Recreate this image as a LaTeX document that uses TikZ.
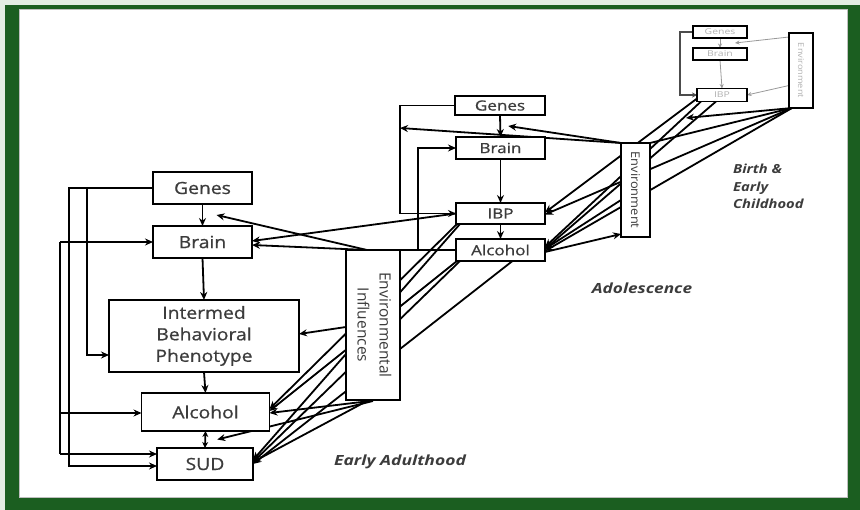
\documentclass[tikz,border=0pt]{standalone}
\usepackage{fontspec}
\usepackage{graphicx}
\setmainfont{Open Sans}
\newfontfamily\bxf{Open Sans}[FakeBold=0.7]
\usetikzlibrary{arrows.meta,calc}
\pgfdeclarelayer{back}
\pgfdeclarelayer{lines}
\pgfsetlayers{back,lines,main}
\definecolor{framegreen}{HTML}{1B5E20}
\definecolor{txt}{HTML}{3C3C3C}
\definecolor{pale}{HTML}{E3EDE3}
\newcommand{\hsc}[2]{\scalebox{#1}[1]{#2}}
\begin{document}
\begin{tikzpicture}[x=1pt,y=-1pt,
  box/.style={draw=black,line width=1.9pt,fill=white,inner sep=0pt,outer sep=0pt,text=txt},
  ebox/.style={box,font=\bxf\fontsize{16.8}{21.5}\selectfont},
  abox/.style={box,font=\bxf\fontsize{14}{16}\selectfont},
  bbox/.style={box,line width=1.6pt,text=gray!60,font=\fontsize{8}{9}\selectfont},
  ln/.style={line width=1.8pt,black},
  arr/.style={ln,-{Stealth[length=8pt,width=7pt]}},
  tarr/.style={line width=0.8pt,gray!80,-{Stealth[length=4.5pt,width=4pt]}},
  lbl/.style={font=\fontsize{14}{17.5}\selectfont\bfseries\itshape,text=txt,inner sep=0pt}
]
\begin{pgfonlayer}{back}
  \fill[pale] (0,0) rectangle (860,510);
  \fill[framegreen] (5,5) rectangle (860,510);
  \fill[white] (19,9.5) rectangle (847,497);
  \draw[gray!50,line width=0.6pt] (19,9.5) rectangle (847,497);
\end{pgfonlayer}
\useasboundingbox (0,0) rectangle (860,510);

% ---------- Early adulthood ----------
\node[ebox,minimum width=99pt,minimum height=32pt] (ge) at (202.5,188) {\hsc{1.15}{Genes}};
\node[ebox,minimum width=99pt,minimum height=32pt] (br) at (202.5,242) {\hsc{1.15}{Brain}};
\node[ebox,minimum width=190pt,minimum height=72pt] (ibp) at (204,336)
  {\hsc{1.15}{\begin{tabular}{@{}c@{}}Intermed\\Behavioral\\Phenotype\end{tabular}}};
\node[ebox,minimum width=128pt,minimum height=38pt] (al) at (205.5,412) {\hsc{1.15}{Alcohol}};
\node[ebox,minimum width=96pt,minimum height=32pt] (sud) at (205,464) {\hsc{1.15}{SUD}};
\node[box,font=\fontsize{15.5}{22}\selectfont,minimum width=54pt,minimum height=150pt] (envI) at (373,325)
  {\rotatebox{-90}{\begin{tabular}{@{}c@{}}Environmental\\Influences\end{tabular}}};

% ---------- Adolescence ----------
\node[abox,minimum width=90pt,minimum height=19pt] (ga) at (500,105.5) {\hsc{1.22}{Genes}};
\node[abox,minimum width=89pt,minimum height=22pt] (ba) at (500.5,148) {\hsc{1.22}{Brain}};
\node[abox,minimum width=89pt,minimum height=21pt] (ia) at (500.5,213.5) {\hsc{1.22}{IBP}};
\node[abox,minimum width=89pt,minimum height=22pt] (aa) at (500.5,250) {\hsc{1.22}{Alcohol}};
\node[box,font=\fontsize{12}{14}\selectfont,minimum width=29pt,minimum height=94pt] (ea) at (635.5,190)
  {\rotatebox{-90}{\hsc{1.07}{Environment}}};

% ---------- Birth ----------
\node[bbox,minimum width=54pt,minimum height=12pt] (gb) at (720,32) {\hsc{1.3}{Genes}};
\node[bbox,minimum width=54pt,minimum height=12pt] (bb) at (720,54) {\hsc{1.3}{Brain}};
\node[bbox,minimum width=50pt,minimum height=13pt] (ib) at (722,95) {\hsc{1.3}{IBP}};
\node[bbox,minimum width=24pt,minimum height=75pt] (eb) at (801,70.5) {\rotatebox{-90}{\hsc{1.15}{Environment}}};

% ---------- Labels ----------
\node[lbl] (lea) at (400,462) {\hsc{1.25}{Early Adulthood}};
\node[lbl] (lad) at (642,288) {\hsc{1.23}{Adolescence}};
\node[lbl,font=\fontsize{12.5}{17.5}\selectfont\bfseries\itshape,anchor=west] (lbi) at (733,188)
  {\hsc{1.18}{\begin{tabular}{@{}l@{}}Birth \&\\Early\\Childhood\end{tabular}}};

% ---------- helper coordinates ----------
\coordinate (gbm) at ($(ge.south)!.5!(br.north)+(14,0)$);
\coordinate (asm) at ($(al.south)!.5!(sud.north)+(12,0)$);
\coordinate (e1) at (87,355);
\coordinate (e2) at (69,466);
\coordinate (busT) at (60,242);
\coordinate (busM) at (60,413);
\coordinate (busB) at (60,454);
\coordinate (aw1) at (418,250);
\coordinate (aw2) at (367,250);
\coordinate (gam) at ($(ga.south)!.5!(ba.north)+(8,0)$);
\coordinate (vl) at (400,128);
\coordinate (vlb) at (400,213.5);
\coordinate (gbmb) at ($(gb.south)!.5!(bb.north)+(15,0)$);
\coordinate (blp) at (680,95);
\coordinate (bp) at (686,118);
\coordinate (ebs) at ($(eb.south west)+(3,0)$);

\begin{pgfonlayer}{lines}
  % early internal
  \draw[arr] (ge.south) -- (br.north);
  \draw[arr] (br.south) -- (ibp.north);
  \draw[arr] (ibp.south) -- (al.north);
  \draw[ln,{Stealth[length=6pt,width=6pt]}-{Stealth[length=6pt,width=6pt]}] (al.south) -- (sud.north);
  \draw[arr] (ge.west) -| (e1) -- (ibp.west |- e1);
  \draw[arr] (ge.west) -| (e2) -- (sud.west |- e2);
  \draw[ln] (busT) -- (busB);
  \draw[arr] (busT) -- (br.west);
  \draw[arr] (busM) -- (al.west |- busM);
  \draw[arr] (busB) -- (sud.west |- busB);
  % environmental influences
  \draw[arr] ($(envI.west)+(0,2)$) -- ($(ibp.east)+(0,-2)$);
  \draw[arr] ($(envI.south)+(-3,1)$) -- ($(al.east)+(0,1)$);
  \draw[arr] ($(envI.south)+(-6,1)$) -- ($(sud.east)+(0,-2)$);
  \draw[arr] ($(envI.south)+(0,1)$) -- (asm);
  % adolescence -> early adulthood
  \draw[arr] (ia.west) -- ($(br.east)+(0,-1)$);
  \draw[ln] (aa.west) -- (aw2);
  \draw[arr] (aw1) |- (ba.west);
  \draw[arr] (aw2) -- ($(br.east)+(0,3)$);
  \draw[arr] (aw2) -- (gbm);
  \draw[arr] ($(ia.south west)+(1,0)$) -- ($(al.east)+(0,-3)$);
  \draw[arr] ($(ia.south west)+(4,0)$) -- ($(sud.east)+(0,-4)$);
  \draw[arr] ($(aa.south west)+(1,0)$) -- ($(al.east)+(0,-1)$);
  \draw[arr] ($(aa.south west)+(4,0)$) -- ($(sud.east)+(0,-2)$);
  \draw[arr] ($(aa.south)+(12,0)$) -- (sud.east);
  % adolescence internal
  \draw[arr] (ga.south) -- (ba.north);
  \draw[arr] (ba.south) -- (ia.north);
  \draw[arr] (ia.south) -- (aa.north);
  \draw[arr] (ga.west) -| (vlb) -- (ia.west);
  \draw[arr] (ea.north west) -- (vl);
  \draw[arr] (ea.north west) -- (gam);
  \draw[arr] ($(ea.west)+(0,10)$) -- ($(aa.east)+(0,-1)$);
  \draw[arr] ($(aa.east)+(0,2)$) -- ($(ea.south west)+(0,-3)$);
  % birth internal
  \draw[tarr] (gb.south) -- (bb.north);
  \draw[tarr] (bb.south) -- (ib.north);
  \draw[line width=1.1pt,black!70,-{Stealth[length=5pt,width=5pt]}] (gb.west) -| (blp) -- (ib.west);
  \draw[tarr] ($(eb.north west)+(0,4)$) -- (gbmb);
  \draw[tarr] ($(eb.west)+(0,15)$) -- (ib.east);
  % birth -> adolescence
  \draw[arr] ($(ib.south west)+(0,-3)$) -- ($(ia.east)+(0,-1)$);
  \draw[arr] ($(ib.south west)+(4,0)$) -- ($(aa.east)+(0,-3)$);
  \draw[arr] ($(ib.south)+(-6,0)$) -- ($(aa.east)+(0,-1)$);
  \draw[arr] (ebs) -- (bp);
  \draw[arr] (ebs) -- ($(ia.east)+(0,1)$);
  \draw[arr] (ebs) -- ($(aa.east)+(0,1)$);
  \draw[ln] (ebs) -- (ea.north east);
\end{pgfonlayer}
\end{tikzpicture}
\end{document}
